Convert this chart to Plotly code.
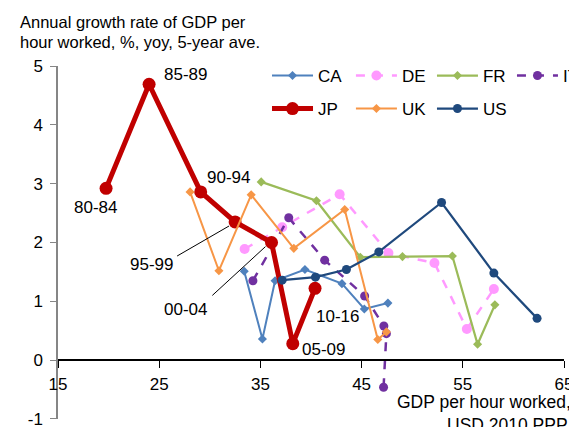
import plotly.graph_objects as go

# GDP per hour worked (USD 2010 PPP) vs growth rate (%, 5-year ave.)
periods = ["80-84", "85-89", "90-94", "95-99", "00-04", "05-09", "10-16"]

ca_x = [33.4, 35.2, 36.45, 39.4, 43.06, 45.27, 47.6]
ca_y = [1.51, 0.36, 1.35, 1.54, 1.30, 0.87, 0.97]

de_x = [33.44, 37.15, 42.83, 47.65, 52.2, 55.4, 58.07]
de_y = [1.89, 2.26, 2.82, 1.82, 1.65, 0.53, 1.21]

fr_x = [35.08, 40.54, 44.87, 49.04, 53.97, 56.46, 58.17]
fr_y = [3.03, 2.71, 1.75, 1.76, 1.77, 0.27, 0.94]

it_x = [34.26, 37.8, 41.35, 45.3, 47.2, 47.45, 47.17]
it_y = [1.35, 2.42, 1.70, 1.09, 0.58, 0.45, -0.46]

jp_x = [19.75, 24.0, 29.1, 32.5, 36.1, 38.2, 40.4]
jp_y = [2.92, 4.69, 2.86, 2.35, 2.0, 0.28, 1.22]

uk_x = [28.05, 30.9, 34.09, 38.3, 43.33, 46.6, 47.45]
uk_y = [2.86, 1.52, 2.81, 1.90, 2.56, 0.35, 0.48]

us_x = [37.15, 40.44, 43.5, 46.7, 52.9, 58.07, 62.34]
us_y = [1.36, 1.41, 1.54, 1.84, 2.68, 1.48, 0.71]

x_ticks = [15, 25, 35, 45, 55, 65]
y_ticks = [-1, 0, 1, 2, 3, 4, 5]
y_tick_labels = ["-1", "0", "1", "2", "3", "4", "5"]

FONT = "Arial, Liberation Sans, sans-serif"

# name, x, y, colour, width, dash, symbol, marker size
series = [
    ("CA", ca_x, ca_y, "#4F81BD", 2, "solid", "diamond", 7),
    ("DE", de_x, de_y, "#FF99FF", 2.5, "dash", "circle", 10),
    ("FR", fr_x, fr_y, "#9BBB59", 2.25, "solid", "diamond", 7),
    ("IT", it_x, it_y, "#7030A0", 2.5, "dash", "circle", 9),
    ("JP", jp_x, jp_y, "#C00000", 5, "solid", "circle", 13),
    ("UK", uk_x, uk_y, "#F79646", 2, "solid", "diamond", 7),
    ("US", us_x, us_y, "#1F497D", 2.25, "solid", "circle", 9),
]

# one single-item legend per series so the 4 + 3 grid can be placed exactly
# (x of legend box, y of row) in container fractions
legend_slots = [
    (0.4552, 0.8377), (0.6027, 0.8377), (0.7451, 0.8377), (0.8857, 0.8377),
    (0.4552, 0.759), (0.6027, 0.759), (0.7451, 0.759),
]

fig = go.Figure()

legend_layout = {}
for i, (name, xs, ys, color, width, dash, symbol, msize) in enumerate(series):
    leg = "legend" if i == 0 else "legend%d" % (i + 1)
    fig.add_trace(
        go.Scatter(
            x=xs,
            y=ys,
            mode="lines+markers",
            name=name,
            legend=leg,
            line=dict(color=color, width=width, dash=dash),
            marker=dict(color=color, symbol=symbol, size=msize),
            text=periods,
            hovertemplate="<b>" + name + "</b> %{text}<br>%{x}, %{y}<extra></extra>",
        )
    )
    lx, ly = legend_slots[i]
    legend_layout[leg] = dict(
        xref="container", yref="container",
        x=lx, y=ly, xanchor="left", yanchor="middle",
        bgcolor="rgba(0,0,0,0)",
        font=dict(size=17, color="black", family=FONT),
        itemwidth=41,
    )

# period labels for Japan
label_pos = {
    "80-84": (18.7, 2.6),
    "85-89": (27.6, 4.85),
    "90-94": (31.8, 3.1),
    "95-99": (24.2, 1.62),
    "00-04": (27.6, 0.86),
    "05-09": (41.2, 0.18),
    "10-16": (42.6, 0.75),
}
for text, (lx, ly) in label_pos.items():
    fig.add_annotation(
        x=lx, y=ly, text=text, showarrow=False,
        font=dict(size=17, color="black", family=FONT),
    )

# leader lines for the crowded labels
leaders = [((26.77, 1.77), (31.9, 2.28)), ((30.25, 1.1), (35.5, 1.93))]
for (x0, y0), (x1, y1) in leaders:
    fig.add_shape(type="line", x0=x0, y0=y0, x1=x1, y1=y1,
                  line=dict(color="black", width=1))

# axis titles as free text lines
text_lines = [
    ("Annual growth rate of GDP per", -0.0791, 1.1246, "left", 16.5),
    ("hour worked, %, yoy, 5-year ave.", -0.0791, 1.068, "left", 16.5),
    ("GDP per hour worked,", 1.0178, 0.049, "right", 17.5),
    ("USD 2010 PPP", 1.0119, -0.0165, "right", 17.5),
]
for text, tx, ty, anchor, size in text_lines:
    fig.add_annotation(
        xref="paper", yref="paper", x=tx, y=ty,
        xanchor=anchor, yanchor="middle",
        text=text, showarrow=False,
        font=dict(size=size, color="black", family=FONT),
    )

# the page adds an 8px body margin, so the figure is 8px smaller than the window
fig.update_layout(
    width=569,
    height=419,
    showlegend=True,
    paper_bgcolor="white",
    plot_bgcolor="white",
    font=dict(family=FONT, color="black"),
    margin=dict(l=50, r=13, t=58, b=8, autoexpand=False),
    xaxis=dict(
        range=[15, 65],
        tickvals=x_ticks,
        anchor="free",
        position=1 / 6,
        showline=True,
        linecolor="black",
        linewidth=1.5,
        ticks="outside",
        ticklen=7,
        tickcolor="black",
        ticklabelstandoff=2,
        showgrid=False,
        zeroline=False,
        automargin=False,
        tickfont=dict(size=17, color="black", family=FONT),
    ),
    yaxis=dict(
        range=[-1.0005, 5],
        tickvals=y_ticks,
        ticktext=y_tick_labels,
        showline=True,
        linecolor="#868686",
        linewidth=1.5,
        ticks="outside",
        ticklen=6,
        tickcolor="#868686",
        ticklabelstandoff=4,
        ticklabeloverflow="allow",
        showgrid=False,
        zeroline=False,
        automargin=False,
        tickfont=dict(size=17, color="black", family=FONT),
    ),
    **legend_layout,
)

fig.write_html("out.html")
